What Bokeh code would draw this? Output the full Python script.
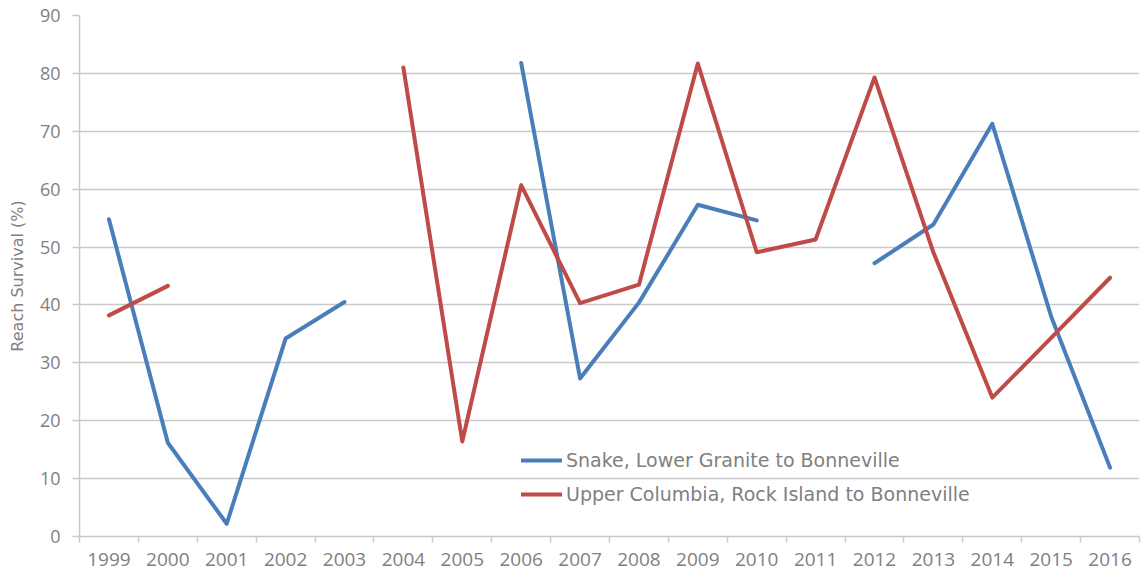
import numpy as np
from bokeh.plotting import figure
from bokeh.models import Range1d, FixedTicker, ColumnDataSource
from bokeh.embed import file_html
from bokeh.resources import INLINE

years = ["1999", "2000", "2001", "2002", "2003", "2004", "2005", "2006", "2007",
         "2008", "2009", "2010", "2011", "2012", "2013", "2014", "2015", "2016"]

snake = [54.8, 16.2, 2.2, 34.2, 40.5, None, None, 81.8, 27.3,
         40.4, 57.3, 54.6, None, 47.2, 53.9, 71.3, 38.0, 11.9]

upper_columbia = [38.2, 43.3, None, None, None, 81.0, 16.4, 60.7, 40.3,
                  43.5, 81.7, 49.1, 51.3, 79.3, 49.1, 24.0, 34.3, 44.7]

y_ticks = [0, 10, 20, 30, 40, 50, 60, 70, 80, 90]

series_names = ["Snake, Lower Granite to Bonneville",
                "Upper Columbia, Rock Island to Bonneville"]
colors = ["#4a7ebb", "#be4b48"]

GRAY_TEXT = "#808080"
GRAY_LINE = "#c9c9c9"

xpos = [i + 0.5 for i in range(len(years))]


def to_arr(vals):
    return np.array([np.nan if v is None else v for v in vals], dtype=float)


source = ColumnDataSource(data=dict(x=xpos, snake=to_arr(snake), uc=to_arr(upper_columbia)))

p = figure(width=1141, height=575, output_backend="svg", toolbar_location=None,
           x_range=Range1d(0, len(years)), y_range=Range1d(0, 90),
           min_border_left=79, min_border_right=2, min_border_top=15, min_border_bottom=39)

p.outline_line_color = None
p.background_fill_color = "white"
p.border_fill_color = "white"

for key, name, col in zip(["snake", "uc"], series_names, colors):
    p.line("x", key, source=source, line_color=col, line_width=4,
           line_cap="round", line_join="round", legend_label=name)

# X axis
p.xaxis.ticker = FixedTicker(ticks=xpos, minor_ticks=list(range(len(years) + 1)))
p.xaxis.major_label_overrides = {x: y for x, y in zip(xpos, years)}
p.xaxis.major_tick_line_color = None
p.xaxis.major_tick_out = 6
p.xaxis.major_tick_in = 0
p.xaxis.minor_tick_out = 6
p.xaxis.minor_tick_in = 0
p.xaxis.minor_tick_line_color = GRAY_LINE
p.xaxis.minor_tick_line_width = 1.5
p.xaxis.axis_line_color = GRAY_LINE
p.xaxis.axis_line_width = 1.5
p.xaxis.major_label_text_font = "Open Sans"
p.xaxis.major_label_text_font_size = "19px"
p.xaxis.major_label_text_color = GRAY_TEXT
p.xaxis.major_label_standoff = 10
p.xgrid.grid_line_color = None

# Y axis
p.yaxis.ticker = FixedTicker(ticks=y_ticks)
p.yaxis.minor_tick_line_color = None
p.yaxis.major_tick_out = 7
p.yaxis.major_tick_in = 0
p.yaxis.major_tick_line_color = GRAY_LINE
p.yaxis.major_tick_line_width = 1.5
p.yaxis.axis_line_color = GRAY_LINE
p.yaxis.axis_line_width = 1.5
p.yaxis.major_label_text_font = "Open Sans"
p.yaxis.major_label_text_font_size = "18px"
p.yaxis.major_label_text_color = GRAY_TEXT
p.yaxis.major_label_standoff = 12
p.yaxis.axis_label = "Reach Survival (%)"
p.yaxis.axis_label_text_font = "DejaVu Sans"
p.yaxis.axis_label_text_font_style = "normal"
p.yaxis.axis_label_text_font_size = "16px"
p.yaxis.axis_label_text_color = GRAY_TEXT
p.yaxis.axis_label_standoff = 10
p.ygrid.grid_line_color = GRAY_LINE
p.ygrid.grid_line_width = 1.5

# Legend
lg = p.legend[0]
lg.location = (442, 31)
lg.padding = 0
lg.margin = 0
lg.spacing = 12
lg.glyph_width = 41
lg.glyph_height = 20
lg.label_height = 20
lg.label_standoff = 4
lg.border_line_color = None
lg.background_fill_alpha = 0
lg.label_text_font = "DejaVu Sans"
lg.label_text_font_size = "19px"
lg.label_text_color = GRAY_TEXT

open("out.html", "w").write(file_html(p, INLINE))
